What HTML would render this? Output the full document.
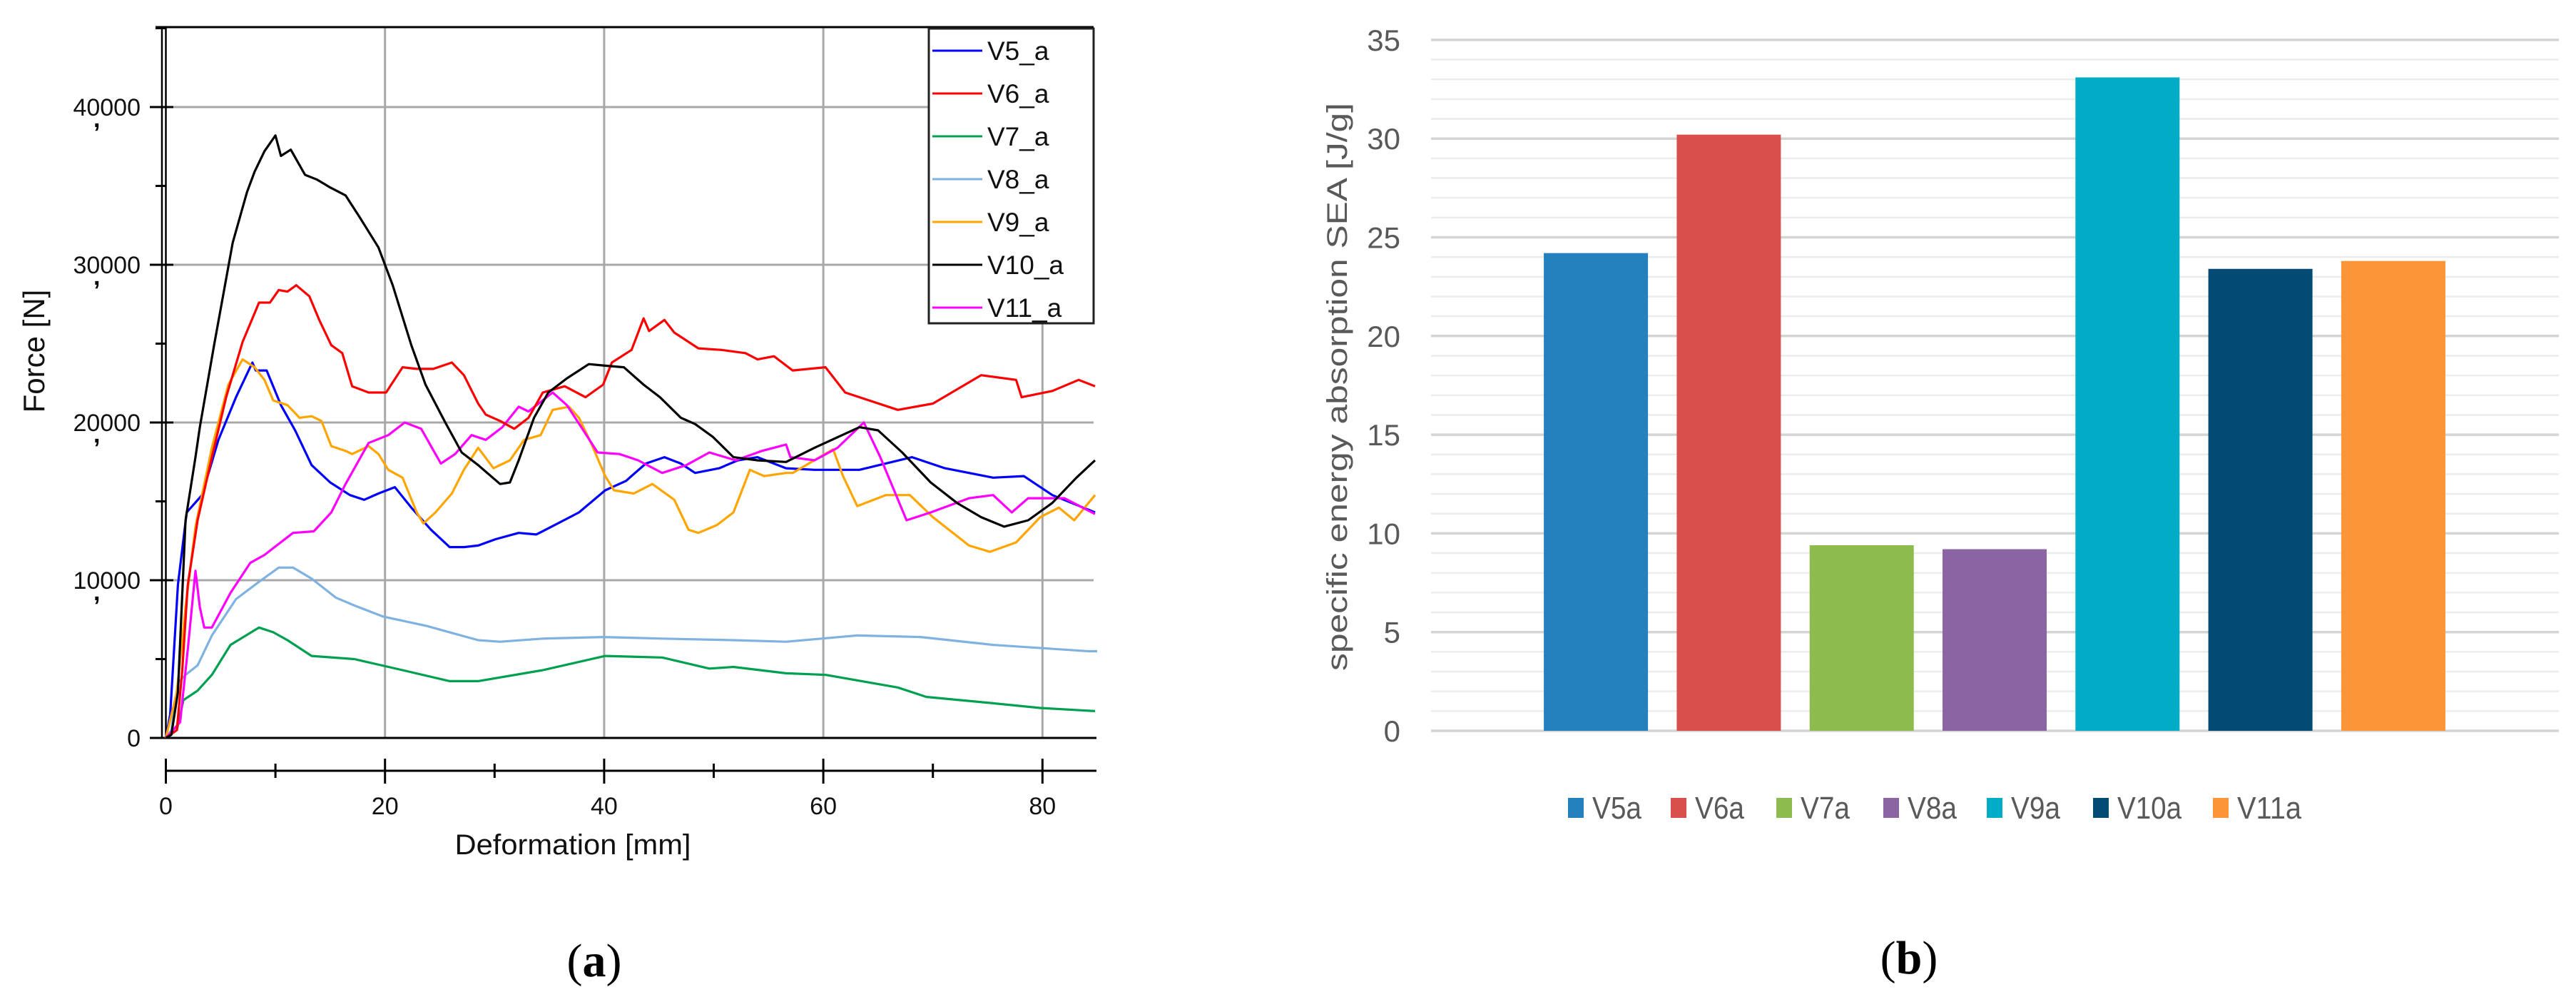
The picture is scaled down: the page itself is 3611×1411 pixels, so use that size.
<!DOCTYPE html>
<html><head><meta charset="utf-8"><style>
html,body{margin:0;padding:0;background:#fff;}
svg{display:block;}
</style></head><body>
<svg id="fig" width="3611" height="1411" viewBox="0 0 3611 1411" xmlns="http://www.w3.org/2000/svg">
<g id="left"></g>
<g id="right"></g>
<text x="833" y="1368" text-anchor="middle" font-family="Liberation Serif, serif" font-size="66">(<tspan font-weight="bold">a</tspan>)</text>
<text x="2676" y="1364" text-anchor="middle" font-family="Liberation Serif, serif" font-size="66">(<tspan font-weight="bold">b</tspan>)</text>
</svg>
<script>
// ---------- Left chart data (x in mm, y in kN) ----------
const seriesNames = ["V5_a","V6_a","V7_a","V8_a","V9_a","V10_a","V11_a"];
const seriesColors = ["#0000ff","#ff0000","#00a050","#7fb2e0","#ffa500","#000000","#ff00ff"];
const v5x = [0,0.4,1.1,1.9,3.3,4.8,6.4,7.9,8.2,9.2,10.5,11.8,13.3,15,16.8,18.1,19.4,20.9,22.4,24.2,25.9,27.2,28.5,30.1,32.2,33.8,35.5,37.7,40.1,42,43.8,45.5,47,48.3,50.5,52.2,54,56.6,59.2,63.3,68.1,71.1,75.5,78.3,80.9,84.8];
const v5y = [0,1.5,9.7,14.3,15.4,18.9,21.6,23.8,23.3,23.3,21.1,19.5,17.3,16.2,15.4,15.1,15.5,15.9,14.6,13.2,12.1,12.1,12.2,12.6,13,12.9,13.5,14.3,15.7,16.3,17.4,17.8,17.4,16.8,17.1,17.6,17.8,17.1,17,17,17.8,17.1,16.5,16.6,15.4,14.3];
const v6x = [0,1,1.5,2,2.9,4.2,5.5,7,8.5,9.5,10.3,11.1,11.9,13.1,14,15.1,16.1,17,18.5,20.1,21.6,22.9,24.4,26.1,27.2,28.5,29.2,30.5,31.8,33.1,34.4,36.4,38.3,39.9,40.7,42.5,43.6,44.1,45.5,46.4,48.6,50.7,52.9,54,55.5,57.2,60.2,62,66.8,70,74.4,77.6,78.1,80.9,83.3,84.8];
const v6y = [0,0.5,4.3,9.7,13.8,17.8,21.6,25.1,27.6,27.6,28.4,28.3,28.7,28,26.5,24.9,24.4,22.3,21.9,21.9,23.5,23.4,23.4,23.8,23,21.2,20.5,20.1,19.6,20.3,21.9,22.3,21.6,22.4,23.8,24.6,26.6,25.8,26.5,25.7,24.7,24.6,24.4,24,24.2,23.3,23.5,21.9,20.8,21.2,23,22.7,21.6,22,22.7,22.3];
const v7x = [0,1,1.6,2.9,4.2,5.9,8.5,9.8,11.1,13.3,17.2,21.6,25.9,28.5,34.4,40.1,45.3,49.6,51.8,56.6,60.2,66.8,69.4,75.5,79.8,84.8];
const v7y = [0,0.5,2.4,3,4,5.9,7,6.7,6.2,5.2,5,4.3,3.6,3.6,4.3,5.2,5.1,4.4,4.5,4.1,4,3.2,2.6,2.2,1.9,1.7];
const v8x = [0,0.5,1.1,1.8,2.9,4.2,6.4,8.5,10.3,11.6,13.3,15.5,17.2,19.8,23.8,28.5,30.5,34.4,39.9,45.3,51.8,56.6,63.1,68.9,75.5,84.2,85];
const v8y = [0,0.5,3.5,4,4.6,6.5,8.8,9.9,10.8,10.8,10.1,8.9,8.4,7.7,7.1,6.2,6.1,6.3,6.4,6.3,6.2,6.1,6.5,6.4,5.9,5.5,5.5];
const v9x = [0,1,1.8,2.7,4.2,5.7,7,8.1,9,9.8,11.1,12.2,13.3,14.2,15.1,16.4,17,18.5,19.4,20.3,21.6,22.9,23.5,24.6,26.1,27.2,28.5,29.9,31.4,32.7,34.2,35.3,36.8,37.7,38.8,40.1,40.9,42.7,44.4,46.4,47.7,48.6,50.3,51.8,53.3,54.6,56.6,57.2,60.9,61.8,63.1,65.7,67.9,70,73.3,75.2,77.6,79.8,81.5,82.9,84.8];
const v9y = [0,2.9,8.3,13.4,18.4,22.4,24,23.5,22.7,21.4,21.1,20.3,20.4,20.1,18.5,18.2,18,18.5,18,17,16.5,14.3,13.6,14.3,15.5,17,18.4,17.1,17.6,18.9,19.2,20.8,21,20.3,18.7,16.6,15.7,15.5,16.1,15.1,13.2,13,13.5,14.3,17,16.6,16.8,16.8,18.3,16.6,14.7,15.4,15.4,14,12.2,11.8,12.4,14,14.6,13.8,15.4];
const v10x = [0,0.5,1.1,1.8,2.7,3.1,4.4,6.1,7.4,8.1,9,10,10.5,11.4,12.7,13.8,15,16.4,17.7,19.4,20.7,22.4,23.7,25.5,27,28.5,29,30.5,31.4,32.2,33.6,34.9,36.6,38.6,40.1,41.8,43.6,45.1,47,48.3,49.9,51.8,54,56.6,59.2,63.3,65,67.2,69.8,72.2,74.4,76.5,78.7,80.9,83.1,84.8];
const v10y = [0,0.2,2.9,13.8,17.8,19.7,24.9,31.4,34.6,35.9,37.2,38.2,36.9,37.3,35.7,35.4,34.9,34.4,33,31.1,28.7,24.9,22.4,20,18.1,17.3,17,16.1,16.2,17.6,20.3,21.9,22.8,23.7,23.6,23.5,22.4,21.6,20.3,19.9,19.1,17.8,17.6,17.5,18.4,19.7,19.5,18.1,16.2,14.9,14,13.4,13.8,14.9,16.5,17.6];
const v11x = [0,1.3,2,2.7,3.1,3.5,4.2,5.9,7.7,9,11.6,13.5,15.1,16.4,18.5,20.3,21.8,23.3,25.1,26.4,27.9,29.2,30.7,32.2,33.1,35.3,36.6,38.1,39.4,41.4,43.1,45.3,47.5,49.6,52,54.4,56.6,57,59.2,61.3,63.7,65.2,67.6,69.8,73.3,75.5,77.2,78.7,82,84.8];
const v11y = [0,1,5.6,10.6,8.3,7,7,9.2,11.1,11.6,13,13.1,14.3,16.1,18.7,19.2,20,19.6,17.4,18,19.2,18.9,19.7,21,20.7,21.9,21.1,19.5,18.1,18,17.6,16.8,17.3,18.1,17.6,18.2,18.6,17.8,17.6,18.4,20,17.8,13.8,14.3,15.2,15.4,14.3,15.2,15.2,14.2];
const yTickVals = [0,10000,20000,30000,40000];
const yTickLabels = ["0","10000","20000","30000","40000"];
const xTickVals = [0,20,40,60,80];
const xTickLabels = ["0","20","40","60","80"];

// ---------- Right chart data ----------
const barCats = ["V5a","V6a","V7a","V8a","V9a","V10a","V11a"];
const barVals = [24.2,30.2,9.4,9.2,33.1,23.4,23.8];
const barColors = ["#2580be","#d94f4c","#8dbb4e","#8b64a3","#00acc6","#034b75","#fc9438"];
const barTicks = [0,5,10,15,20,25,30,35];
const barTickLabels = ["0","5","10","15","20","25","30","35"];

const NS="http://www.w3.org/2000/svg";
function mk(parent,tag,attrs,text){const e=document.createElementNS(NS,tag);for(const k in attrs)e.setAttribute(k,attrs[k]);if(text!==undefined)e.textContent=text;parent.appendChild(e);return e;}

// ---------- Left chart ----------
const L=document.getElementById('left');
const xs=mm=>232.5+mm*15.36;
const ys=kn=>1034-kn*22.1;
const ysN=n=>ys(n/1000);
const FONT="Liberation Sans, Arial, sans-serif";
for(const v of [10000,20000,30000,40000]){
  const g=mk(L,'line',{x1:232,x2:1533,y1:ysN(v),y2:ysN(v),stroke:'#a8a8a8','stroke-width':3});
  
  
}
for(const v of [20,40,60,80]){
  const g=mk(L,'line',{x1:xs(v),x2:xs(v),y1:38,y2:1034,stroke:'#a8a8a8','stroke-width':3});
  
  
}
let e;
e=mk(L,'line',{x1:218,x2:1533,y1:38,y2:38,stroke:'#000','stroke-width':3});


e=mk(L,'line',{x1:210,x2:1537,y1:1034,y2:1034,stroke:'#000','stroke-width':3});


e=mk(L,'line',{x1:227,x2:227,y1:38,y2:1034,stroke:'#000','stroke-width':2.5});


e=mk(L,'line',{x1:232.5,x2:232.5,y1:38,y2:1034,stroke:'#000','stroke-width':2.5});


for(let v=0;v<=45000;v+=5000){
  const major=v%10000===0;
  const t=mk(L,'line',{x1:major?210:218,x2:major?243:232,y1:ysN(v),y2:ysN(v),stroke:'#000','stroke-width':3});
  
  
}
yTickVals.forEach((v,i)=>{
  const t=mk(L,'text',{x:197,y:ysN(v)+12,'text-anchor':'end','font-family':FONT,'font-size':34,fill:'#111'},yTickLabels[i]);
  
  
  if(v>0){
    const c=mk(L,'text',{x:131,y:ysN(v)+28,'font-family':FONT,'font-size':34,'font-weight':'bold',fill:'#000'},',');
    
    
  }
});
e=mk(L,'line',{x1:232,x2:1537,y1:1080,y2:1080,stroke:'#000','stroke-width':3});


for(let v=0;v<=85;v+=10){
  const major=v%20===0;
  const t=mk(L,'line',{x1:xs(v),x2:xs(v),y1:major?1063:1070,y2:major?1098:1090,stroke:'#000','stroke-width':3});
  
  
}
xTickVals.forEach((v,i)=>{
  const t=mk(L,'text',{x:xs(v),y:1141,'text-anchor':'middle','font-family':FONT,'font-size':34,fill:'#111'},xTickLabels[i]);
  
  
});
e=mk(L,'text',{x:803,y:1197,'text-anchor':'middle','font-family':FONT,'font-size':40,fill:'#111',textLength:331,lengthAdjust:'spacingAndGlyphs'},'Deformation [mm]');


e=mk(L,'text',{x:0,y:0,'text-anchor':'middle','font-family':FONT,'font-size':42,fill:'#111',transform:'translate(62,492) rotate(-90)'},'Force [N]');


const allX=[v5x,v6x,v7x,v8x,v9x,v10x,v11x];
const allY=[v5y,v6y,v7y,v8y,v9y,v10y,v11y];
const drawOrder=[3,2,0,4,6,1,5];
for(const i of drawOrder){
  const pts=allX[i].map((x,k)=>xs(x).toFixed(1)+','+ys(allY[i][k]).toFixed(1)).join(' ');
  const p=mk(L,'polyline',{points:pts,fill:'none',stroke:seriesColors[i],'stroke-width':3.2,'stroke-linejoin':'round'});
  
  
}
const lg=mk(L,'g',{});


e=mk(lg,'rect',{x:1302,y:40,width:231,height:413,fill:'#fff',stroke:'#222','stroke-width':3});


seriesNames.forEach((n,i)=>{
  const yy=71+i*60;
  const l=mk(lg,'line',{x1:1307,x2:1377,y1:yy,y2:yy,stroke:seriesColors[i],'stroke-width':3});
  
  
  const t=mk(lg,'text',{x:1384,y:yy+13,'font-family':FONT,'font-size':37,fill:'#111'},n);
  
  
});

// ---------- Right chart ----------
const R=document.getElementById('right');
const by=v=>1024-v*27.66;
for(let v=0;v<=35;v+=1){
  const major=v%5===0;
  const g=mk(R,'line',{x1:2006,x2:3587,y1:by(v),y2:by(v),stroke:major?'#d4d4d4':'#ececec','stroke-width':major?3.5:2.5});
  
  
}
barTicks.forEach((v,i)=>{
  const t=mk(R,'text',{x:1963,y:by(v)+15,'text-anchor':'end','font-family':FONT,'font-size':42,fill:'#595959'},barTickLabels[i]);
  
  
});
e=mk(R,'text',{x:0,y:0,'text-anchor':'middle','font-family':FONT,'font-size':40,fill:'#595959',textLength:796,lengthAdjust:'spacingAndGlyphs',transform:'translate(1888,542) rotate(-90)'},'specific energy absorption SEA [J/g]');


const bw=146, step=186.3, cx0=2796;
barVals.forEach((v,i)=>{
  const cx=cx0+(i-3)*step;
  const r=mk(R,'rect',{x:cx-bw/2,y:by(v),width:bw,height:by(0)-by(v),fill:barColors[i]});
  
  
});
const legX=[2198,2342,2490,2640,2785,2934,3102];
barCats.forEach((c,i)=>{
  const s=mk(R,'rect',{x:legX[i],y:1118,width:22,height:28,fill:barColors[i]});
  
  
  const t=mk(R,'text',{x:legX[i]+34,y:1147,'font-family':FONT,'font-size':44,fill:'#595959',textLength:c.length*21+6,lengthAdjust:'spacingAndGlyphs'},c);
  
  
});
</script>
</body></html>
